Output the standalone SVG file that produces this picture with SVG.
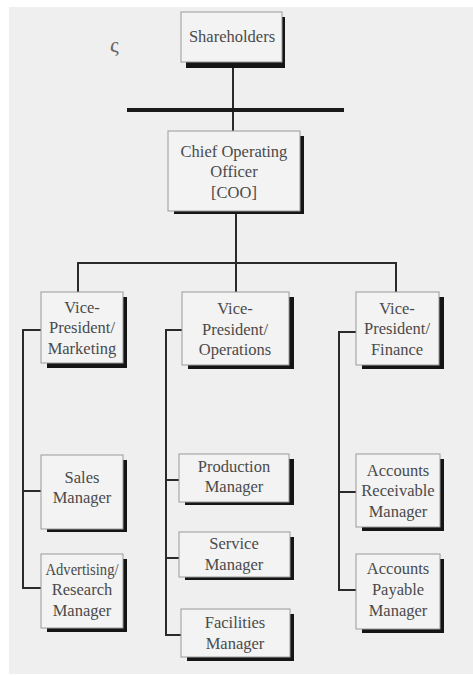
<svg xmlns="http://www.w3.org/2000/svg" width="473" height="675" viewBox="0 0 473 675">
<style>
.bg{fill:#efefef}
.sh{fill:#151515}
.box{fill:#f3f3f3;stroke:#9a9a9a;stroke-width:1}
.t{font-family:"Liberation Serif","Times New Roman",serif;font-size:16.5px;fill:#4a4a4a;text-anchor:middle}
.ln{stroke:#2a2a2a;stroke-width:2;fill:none}
</style>
<rect x="0" y="0" width="473" height="675" fill="#ffffff"/>
<rect class="bg" x="9" y="7" width="464" height="667"/>
<text x="110" y="52" style="font-family:'Liberation Serif',serif;font-size:22px;fill:#666">ς</text>
<g id="connectors">
<line class="ln" x1="233" y1="66" x2="233" y2="131"/>
<line x1="127" y1="110" x2="344" y2="110" stroke="#1a1a1a" stroke-width="4"/>
<line class="ln" x1="236" y1="213" x2="236" y2="292"/>
<polyline class="ln" points="78,292 78,263 396,263 396,292"/>
<polyline class="ln" points="41,330 23,330 23,588 41,588"/>
<line class="ln" x1="23" y1="491" x2="41" y2="491"/>
<polyline class="ln" points="182,330 166,330 166,635 181,635"/>
<line class="ln" x1="166" y1="480" x2="179" y2="480"/>
<line class="ln" x1="166" y1="558" x2="179" y2="558"/>
<polyline class="ln" points="356,332 339,332 339,590 356,590"/>
<line class="ln" x1="339" y1="492" x2="356" y2="492"/>
</g>
<g id="shareholders">
<rect class="sh" x="186" y="17" width="99" height="51"/>
<rect class="box" x="181" y="12" width="101" height="50"/>
<text class="t" x="232" y="42">Shareholders</text>
</g>
<g id="coo">
<rect class="sh" x="174" y="136" width="130" height="78"/>
<rect class="box" x="168" y="131" width="132" height="80"/>
<text class="t" x="234" y="157">Chief Operating</text>
<text class="t" x="234" y="177">Officer</text>
<text class="t" x="234" y="198">[COO]</text>
</g>
<g id="vp-marketing">
<rect class="sh" x="47" y="297" width="80" height="71"/>
<rect class="box" x="41" y="292" width="82" height="71"/>
<text class="t" x="82" y="313">Vice-</text>
<text class="t" x="82" y="333">President/</text>
<text class="t" x="82" y="354">Marketing</text>
</g>
<g id="vp-operations">
<rect class="sh" x="188" y="297" width="106" height="72"/>
<rect class="box" x="182" y="292" width="107" height="73"/>
<text class="t" x="235" y="314">Vice-</text>
<text class="t" x="235" y="335">President/</text>
<text class="t" x="235" y="355">Operations</text>
</g>
<g id="vp-finance">
<rect class="sh" x="362" y="297" width="82" height="72"/>
<rect class="box" x="356" y="292" width="83" height="73"/>
<text class="t" x="397" y="314">Vice-</text>
<text class="t" x="397" y="334">President/</text>
<text class="t" x="397" y="355">Finance</text>
</g>
<g id="sales-manager">
<rect class="sh" x="47" y="460" width="80" height="72"/>
<rect class="box" x="41" y="455" width="82" height="74"/>
<text class="t" x="82" y="483">Sales</text>
<text class="t" x="82" y="503">Manager</text>
</g>
<g id="advertising-manager">
<rect class="sh" x="47" y="559" width="80" height="73"/>
<rect class="box" x="41" y="554" width="82" height="74"/>
<text class="t" x="82" y="575" textLength="73" lengthAdjust="spacingAndGlyphs">Advertising/</text>
<text class="t" x="82" y="595">Research</text>
<text class="t" x="82" y="616">Manager</text>
</g>
<g id="production-manager">
<rect class="sh" x="185" y="459" width="109" height="46"/>
<rect class="box" x="179" y="454" width="110" height="48"/>
<text class="t" x="234" y="472">Production</text>
<text class="t" x="234" y="492">Manager</text>
</g>
<g id="service-manager">
<rect class="sh" x="185" y="537" width="109" height="43"/>
<rect class="box" x="179" y="532" width="111" height="45"/>
<text class="t" x="234" y="549">Service</text>
<text class="t" x="234" y="570">Manager</text>
</g>
<g id="facilities-manager">
<rect class="sh" x="187" y="614" width="107" height="47"/>
<rect class="box" x="181" y="609" width="109" height="48"/>
<text class="t" x="235" y="628">Facilities</text>
<text class="t" x="235" y="649">Manager</text>
</g>
<g id="accounts-receivable-manager">
<rect class="sh" x="362" y="459" width="82" height="72"/>
<rect class="box" x="356" y="454" width="84" height="73"/>
<text class="t" x="398" y="476">Accounts</text>
<text class="t" x="398" y="496">Receivable</text>
<text class="t" x="398" y="517">Manager</text>
</g>
<g id="accounts-payable-manager">
<rect class="sh" x="362" y="559" width="82" height="74"/>
<rect class="box" x="356" y="554" width="84" height="75"/>
<text class="t" x="398" y="574">Accounts</text>
<text class="t" x="398" y="595">Payable</text>
<text class="t" x="398" y="616">Manager</text>
</g>
</svg>
